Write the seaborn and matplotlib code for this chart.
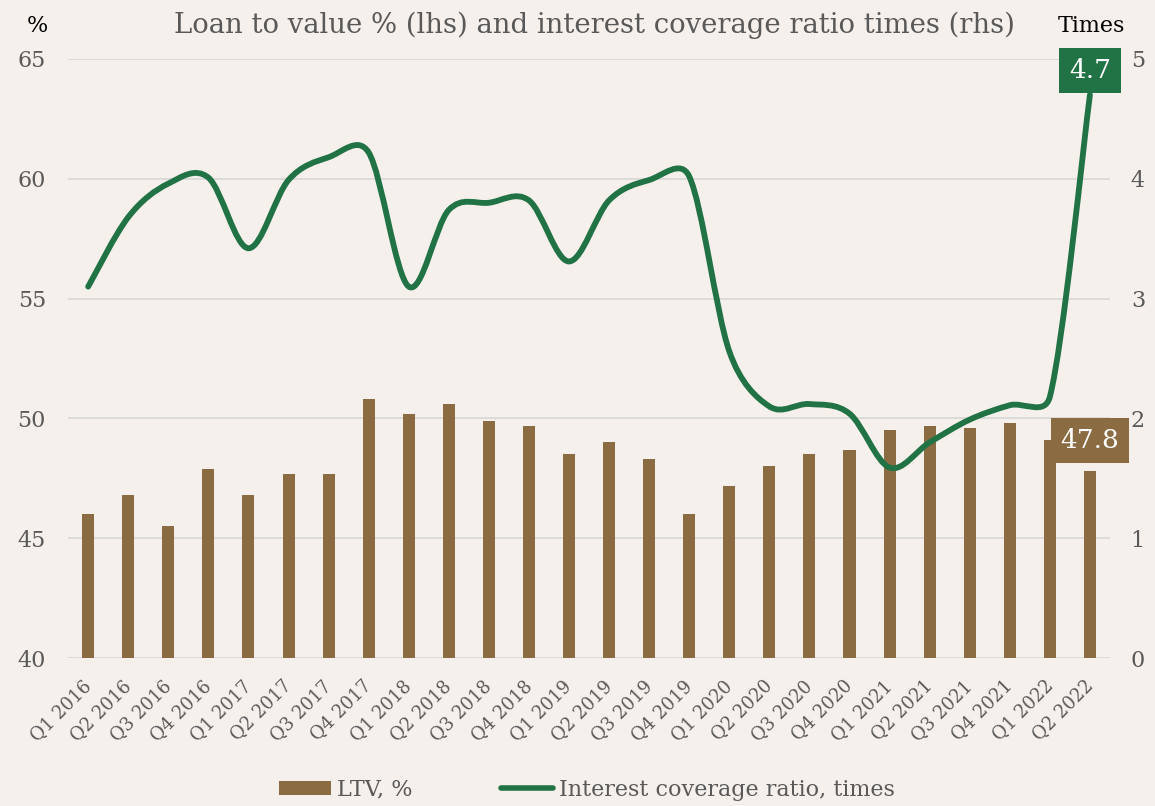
import numpy as np
import matplotlib
matplotlib.use('Agg')
import matplotlib.pyplot as plt
from matplotlib.path import Path
from matplotlib.patches import PathPatch, Patch
from matplotlib.lines import Line2D
import seaborn as sns

quarters = ['Q1 2016', 'Q2 2016', 'Q3 2016', 'Q4 2016', 'Q1 2017', 'Q2 2017', 'Q3 2017', 'Q4 2017',
            'Q1 2018', 'Q2 2018', 'Q3 2018', 'Q4 2018', 'Q1 2019', 'Q2 2019', 'Q3 2019', 'Q4 2019',
            'Q1 2020', 'Q2 2020', 'Q3 2020', 'Q4 2020', 'Q1 2021', 'Q2 2021', 'Q3 2021', 'Q4 2021',
            'Q1 2022', 'Q2 2022']
ltv = [46.0, 46.8, 45.5, 47.9, 46.8, 47.7, 47.7, 50.8,
       50.2, 50.6, 49.9, 49.7, 48.5, 49.0, 48.3, 46.0,
       47.2, 48.0, 48.5, 48.7, 49.5, 49.7, 49.6, 49.8,
       49.1, 47.8]
icr = [3.10, 3.68, 3.96, 4.01, 3.42, 3.99, 4.18, 4.22,
       3.10, 3.74, 3.80, 3.82, 3.31, 3.82, 3.99, 4.02,
       2.56, 2.10, 2.12, 2.04, 1.59, 1.80, 1.99, 2.11,
       2.18, 4.70]

bg = '#F5F0EC'
brown = '#8B6B42'
green = '#217346'
grey = '#595959'

sns.set_theme(style='white')
plt.rcParams['font.family'] = ['DejaVu Serif']

fig = plt.figure(figsize=(11.55, 8.06), dpi=100, facecolor=bg)
ax = fig.add_axes([0.059, 0.1836, 0.902, 0.7432])
ax.set_facecolor(bg)

sns.barplot(x=quarters, y=ltv, ax=ax, color=brown, width=0.3, saturation=1,
            linewidth=0, zorder=2)
ax.set_ylim(40, 65)
ax.set_xlim(-0.5, 25.5)
ax.set_yticks([40, 45, 50, 55, 60, 65])
ax.yaxis.grid(True, color='#D9D9D9', lw=1.3, zorder=0)
ax.set_axisbelow(True)
for s in ax.spines.values():
    s.set_visible(False)
ax.set_xlabel('')
ax.set_ylabel('')
ax.tick_params(axis='y', labelsize=16, colors=grey, length=0, pad=16)
ax.tick_params(axis='x', length=0, pad=18)
plt.setp(ax.get_xticklabels(), rotation=45, ha='right', va='center', rotation_mode='anchor',
         fontsize=13, color=grey)

ax2 = ax.twinx()
ax2.set_ylim(0, 5)
ax2.set_xlim(-0.5, 25.5)
ax2.set_yticks([0, 1, 2, 3, 4, 5])
for s in ax2.spines.values():
    s.set_visible(False)
ax2.tick_params(axis='y', labelsize=16, colors=grey, length=0, pad=15)

# smoothed line: Excel-like bezier in pixel space (tension 1/6, capped at half segment)
xs = np.arange(len(icr), dtype=float)
pts = ax2.transData.transform(np.column_stack([xs, icr]))
P = np.vstack([pts[0], pts, pts[-1]])
verts = [pts[0]]
codes = [Path.MOVETO]
for i in range(1, len(P) - 2):
    p0, p1, p2, p3 = P[i - 1], P[i], P[i + 1], P[i + 2]
    d12 = np.hypot(*(p2 - p1))
    d02 = np.hypot(*(p2 - p0))
    d13 = np.hypot(*(p3 - p1))
    f1 = 1 / 6 if d02 / 6 < d12 / 2 else d12 / (2 * d02)
    f2 = 1 / 6 if d13 / 6 < d12 / 2 else d12 / (2 * d13)
    c1 = p1 + (p2 - p0) * f1
    c2 = p2 - (p3 - p1) * f2
    verts += [c1, c2, p2]
    codes += [Path.CURVE4] * 3
verts = ax2.transData.inverted().transform(np.array(verts))
ax2.add_patch(PathPatch(Path(verts, codes), fill=False, edgecolor=green, lw=4.2,
                        capstyle='round', joinstyle='round', zorder=3))

# end labels
ax2.annotate(f'{icr[-1]:.1f}', (xs[-1], icr[-1]), xytext=(0, 17.6), textcoords='offset points',
             ha='center', va='center', fontsize=19, color='white',
             bbox=dict(boxstyle='square,pad=0.38', fc=green, ec='none'), zorder=5)
ax.annotate(f'{ltv[-1]:.1f}', (xs[-1], ltv[-1]), xytext=(0, 22.3), textcoords='offset points',
            ha='center', va='center', fontsize=19, color='white',
            bbox=dict(boxstyle='square,pad=0.38', fc=brown, ec='none'), zorder=5)

fig.text(0.515, 0.968, 'Loan to value % (lhs) and interest coverage ratio times (rhs)',
         ha='center', va='center', fontsize=19.8, color=grey)
fig.text(0.032, 0.968, '%', ha='center', va='center', fontsize=16, color='black')
fig.text(0.945, 0.968, 'Times', ha='center', va='center', fontsize=16, color='black')

handles = [Patch(facecolor=brown, edgecolor='none'),
           Line2D([0], [0], color=green, lw=4, solid_capstyle='round')]
fig.legend(handles, ['LTV, %', 'Interest coverage ratio, times'], loc='center',
           bbox_to_anchor=(0.508, 0.02), ncol=2, frameon=False, fontsize=16,
           labelcolor=grey, handlelength=2.34, handleheight=0.63, handletextpad=0.27,
           columnspacing=4.0)

fig.savefig('out.png', dpi=100, facecolor=bg)
